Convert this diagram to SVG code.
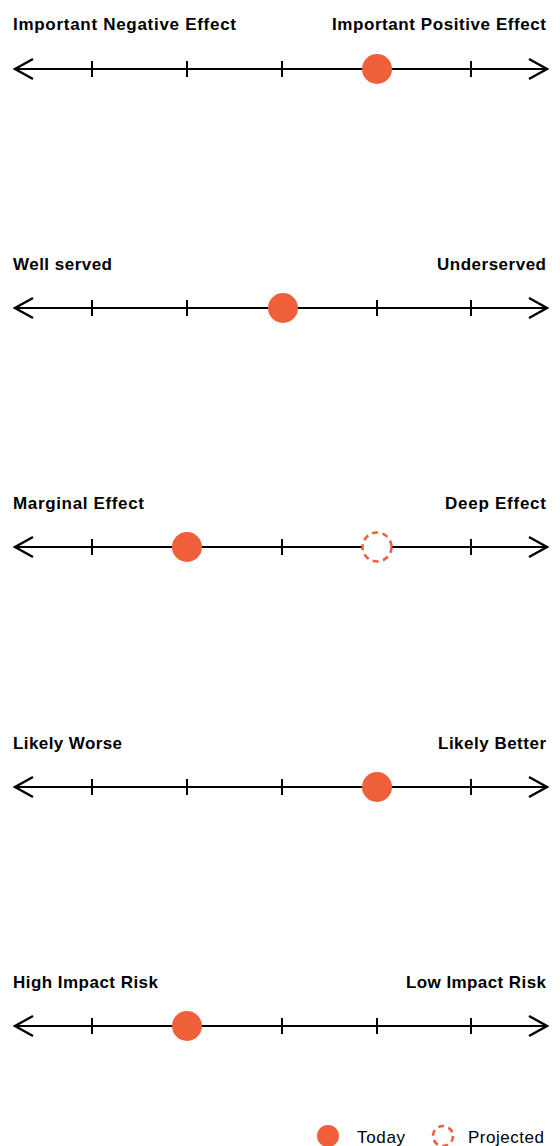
<svg xmlns="http://www.w3.org/2000/svg" width="560" height="1146" viewBox="0 0 560 1146">
<style>
.lbl{font-family:"Liberation Sans",Arial,sans-serif;font-weight:bold;font-size:17px;fill:#000}
.leg{font-family:"Liberation Sans",Arial,sans-serif;font-size:17px;fill:#000}
.ax{stroke:#000;stroke-width:2;fill:none}
.ah{stroke:#000;stroke-width:2.4;fill:none;stroke-linecap:butt;stroke-linejoin:miter}
.tk{stroke:#000;stroke-width:2}
.today{fill:#EE5F3A}
.proj{fill:#fff;stroke:#EE5F3A;stroke-width:2.6;stroke-dasharray:6 4.5}
</style>
<defs>
<g id="axis">
<line class="ax" x1="15" y1="0" x2="547" y2="0"/>
<polyline class="ah" points="33,-10 15,0 33,10"/>
<polyline class="ah" points="529,-10 547,0 529,10"/>
<line class="tk" x1="92" y1="-8" x2="92" y2="8"/>
<line class="tk" x1="187" y1="-8" x2="187" y2="8"/>
<line class="tk" x1="282" y1="-8" x2="282" y2="8"/>
<line class="tk" x1="377" y1="-8" x2="377" y2="8"/>
<line class="tk" x1="471" y1="-8" x2="471" y2="8"/>
</g>
</defs>
<g id="scale1">
<text class="lbl" x="13" y="30" textLength="223" lengthAdjust="spacing">Important Negative Effect</text>
<text class="lbl" x="332" y="30" textLength="214" lengthAdjust="spacing">Important Positive Effect</text>
<use href="#axis" y="69"/>
<circle class="today" cx="377" cy="69" r="15"/>
</g>
<g id="scale2">
<text class="lbl" x="13" y="270" textLength="99" lengthAdjust="spacing">Well served</text>
<text class="lbl" x="437" y="270" textLength="109" lengthAdjust="spacing">Underserved</text>
<use href="#axis" y="308"/>
<circle class="today" cx="283" cy="308" r="15"/>
</g>
<g id="scale3">
<text class="lbl" x="13" y="509" textLength="131" lengthAdjust="spacing">Marginal Effect</text>
<text class="lbl" x="445" y="509" textLength="101" lengthAdjust="spacing">Deep Effect</text>
<use href="#axis" y="547"/>
<circle class="today" cx="187" cy="547" r="15"/>
<circle class="proj" cx="377" cy="547" r="14.5"/>
</g>
<g id="scale4">
<text class="lbl" x="13" y="749" textLength="109" lengthAdjust="spacing">Likely Worse</text>
<text class="lbl" x="438" y="749" textLength="108" lengthAdjust="spacing">Likely Better</text>
<use href="#axis" y="787"/>
<circle class="today" cx="377" cy="787" r="15"/>
</g>
<g id="scale5">
<text class="lbl" x="13" y="988" textLength="145" lengthAdjust="spacing">High Impact Risk</text>
<text class="lbl" x="406" y="988" textLength="140" lengthAdjust="spacing">Low Impact Risk</text>
<use href="#axis" y="1026"/>
<circle class="today" cx="187" cy="1026" r="15"/>
</g>
<g id="legend">
<circle class="today" cx="328" cy="1136" r="11"/>
<text class="leg" x="357" y="1143" textLength="48" lengthAdjust="spacing">Today</text>
<circle class="proj" cx="443" cy="1136" r="10" stroke-dasharray="7.5 5"/>
<text class="leg" x="468" y="1143" textLength="76" lengthAdjust="spacing">Projected</text>
</g>
</svg>
